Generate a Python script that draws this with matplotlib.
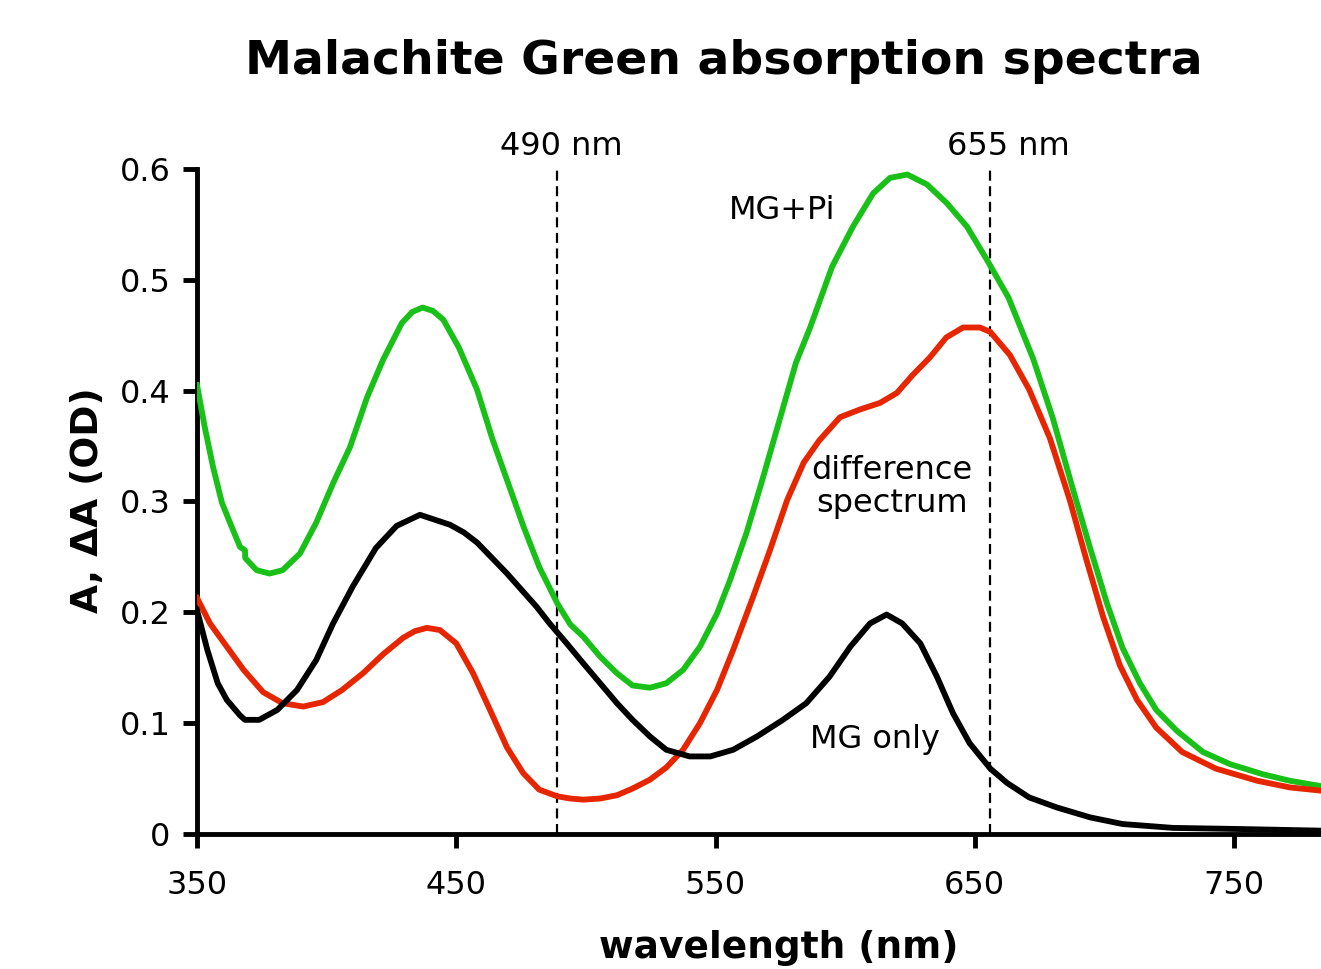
import matplotlib
matplotlib.use("Agg")
import matplotlib.pyplot as plt

# ---- data ----
wl_green = [350, 353, 356.2, 359.6, 362.7, 366.6, 368.5, 368.6, 373, 378, 383, 389.7, 396, 402.6, 409, 415.6,
            421.8, 429, 433, 437, 441, 445, 451, 458, 464, 471, 476, 482, 489, 494, 499, 505.5, 512, 518,
            524.7, 531, 537.5, 544, 550.6, 555.6, 562, 568, 575, 581, 586.5, 595, 603, 610.8, 617.3, 624,
            631.6, 639.3, 647, 654.7, 663, 672.5, 680, 688, 694.5, 701, 707, 713.7, 720, 728, 738, 748.5,
            761, 771.6, 784]
a_green = [0.405, 0.367, 0.331, 0.299, 0.281, 0.259, 0.256, 0.249, 0.238, 0.235, 0.238, 0.253, 0.281, 0.317, 0.349, 0.394,
           0.428, 0.461, 0.471, 0.475, 0.472, 0.464, 0.439, 0.401, 0.356, 0.310, 0.277, 0.241, 0.208, 0.189, 0.178, 0.160, 0.145, 0.134,
           0.132, 0.136, 0.148, 0.169, 0.199, 0.229, 0.272, 0.319, 0.376, 0.425, 0.457, 0.512, 0.548, 0.578, 0.592, 0.595,
           0.586, 0.569, 0.548, 0.518, 0.484, 0.429, 0.376, 0.310, 0.258, 0.208, 0.168, 0.136, 0.112, 0.093, 0.074, 0.063,
           0.054, 0.048, 0.043]

wl_red = [350, 355, 361.5, 368, 375.5, 383, 391, 398.6, 406, 414, 421.7, 429.5, 434, 438.7, 443.7, 450, 456.5,
          463, 469.6, 475.8, 482, 489, 494, 499, 505.5, 512, 518, 524.7, 531, 537.5, 544, 550.6, 556.8,
          564.5, 571, 577.6, 584, 590, 598, 605.7, 613.5, 620, 626, 632.7, 639, 645.5, 652, 656, 663.6,
          671, 679, 686.7, 693, 699.5, 706, 712.6, 720, 730, 743, 759, 771.6, 784]
a_red = [0.213, 0.190, 0.169, 0.148, 0.128, 0.118, 0.115, 0.119, 0.130, 0.145, 0.162, 0.177, 0.183, 0.186, 0.184, 0.172, 0.145,
         0.112, 0.078, 0.055, 0.040, 0.034, 0.032, 0.031, 0.032, 0.035, 0.041, 0.049, 0.060, 0.076, 0.100, 0.130, 0.166,
         0.214, 0.256, 0.301, 0.335, 0.355, 0.376, 0.383, 0.389, 0.398, 0.414, 0.430, 0.448, 0.457, 0.457, 0.453, 0.432,
         0.401, 0.357, 0.301, 0.248, 0.196, 0.152, 0.121, 0.096, 0.074, 0.059, 0.048, 0.042, 0.039]

wl_black = [350, 354, 358, 361.5, 366.6, 368.5, 374, 381, 388.6, 396, 402.5, 410, 419, 427, 436, 447.6, 453,
            458, 463, 469.6, 481, 486, 492.6, 499, 505.5, 512, 518, 524.7, 531, 540, 548, 556.8, 566,
            576, 585, 594, 602, 609.6, 616, 622, 629, 635.4, 641.6, 648, 656, 662.5, 671, 681.6, 694.5,
            707, 726.5, 752, 784]
a_black = [0.202, 0.166, 0.136, 0.121, 0.107, 0.103, 0.103, 0.112, 0.130, 0.157, 0.190, 0.223, 0.258, 0.278, 0.288, 0.279, 0.272,
           0.263, 0.251, 0.235, 0.205, 0.190, 0.172, 0.154, 0.136, 0.118, 0.103, 0.088, 0.076, 0.070, 0.070, 0.076, 0.088,
           0.103, 0.118, 0.142, 0.169, 0.190, 0.198, 0.190, 0.172, 0.142, 0.109, 0.082, 0.059, 0.046, 0.033, 0.024, 0.015,
           0.009, 0.0055, 0.0045, 0.003]

marker_wl = [489, 656]
marker_labels = ["490 nm", "655 nm"]
marker_label_x = [490.4, 662.8]
x_ticks = [350, 450, 550, 650, 750]
y_ticks = [0, 0.1, 0.2, 0.3, 0.4, 0.5, 0.6]
y_ticklabels = ["0", "0.1", "0.2", "0.3", "0.4", "0.5", "0.6"]

# ---- figure ----
plt.rcParams['font.family'] = ['DejaVu Sans']
fig = plt.figure(figsize=(13.21, 9.69), dpi=100)
ax = fig.add_axes([197/1321, 1-834/969, 1-197/1321, (834-169)/969])

green = '#18c018'
red = '#e62600'
lw = 4.2
ax.plot(wl_green, a_green, color=green, lw=lw, zorder=3)
ax.plot(wl_red, a_red, color=red, lw=lw, zorder=3)
ax.plot(wl_black, a_black, color='black', lw=lw, zorder=3)

for wl, lab, lx in zip(marker_wl, marker_labels, marker_label_x):
    ax.plot([wl, wl], [0, 0.6], color='black', lw=1.6, ls=(0, (4.5, 2.5)), zorder=2)
    ax.text(lx, 0.620, lab, ha='center', va='center', fontsize=23)

ax.text(575.6, 0.563, "MG+Pi", ha='center', va='center', fontsize=23)
ax.text(618, 0.313, "difference\nspectrum", ha='center', va='center', fontsize=23, linespacing=1.05)
ax.text(611.5, 0.085, "MG only", ha='center', va='center', fontsize=23)

ax.set_xlim(350, 350 + (1321-197)/2.5925)
ax.set_ylim(0, 0.6)
ax.set_xticks(x_ticks)
ax.set_yticks(y_ticks)
ax.set_yticklabels(y_ticklabels)
ax.tick_params(axis='both', direction='out', length=10, width=3.5, labelsize=23)
ax.tick_params(axis='y', pad=9)
ax.tick_params(axis='x', pad=16)

for s in ['top', 'right']:
    ax.spines[s].set_visible(False)
for s in ['left', 'bottom']:
    ax.spines[s].set_linewidth(3.5)

ax.set_xlabel("wavelength (nm)", fontsize=27, fontweight='bold', va='center')
ax.xaxis.set_label_coords((779-197)/1124, (834-948)/665)
ax.set_ylabel("A, ΔA (OD)", fontsize=27, fontweight='bold', va='center')
ax.yaxis.set_label_coords((88-197)/1124, (834-500)/665)
fig.text(724/1321, 1-62/969, "Malachite Green absorption spectra", ha='center', va='center',
         fontsize=34, fontweight='bold')

fig.savefig("out.png", dpi=100)
